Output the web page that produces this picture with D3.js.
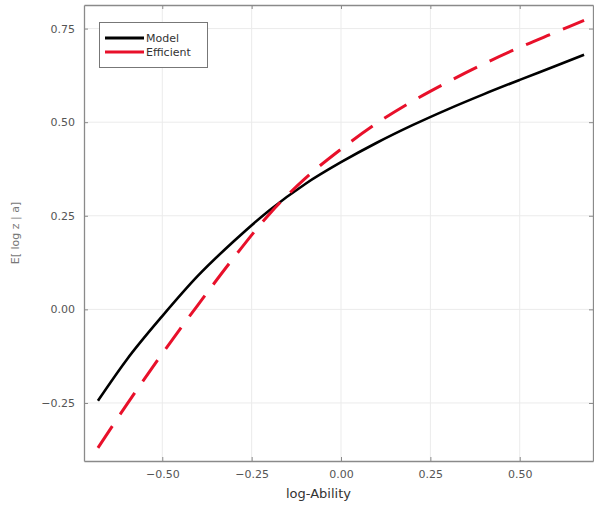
<!DOCTYPE html>
<html>
<head>
<meta charset="utf-8">
<script src="https://cdn.jsdelivr.net/npm/d3@7"></script>
<style>
  html, body { margin: 0; padding: 0; background: #fff; }
  svg { display: block; }
</style>
</head>
<body>
<svg id="chart" width="594" height="508"></svg>
<script>
const xValues = [-0.68, -0.60, -0.50, -0.40, -0.30, -0.20, -0.10, 0.00, 0.10, 0.20, 0.30, 0.40, 0.50, 0.60, 0.68];
const modelValues = [-0.244, -0.135, -0.018, 0.09, 0.182, 0.265, 0.335, 0.393, 0.445, 0.492, 0.535, 0.575, 0.613, 0.650, 0.680];
const efficientValues = [-0.37, -0.255, -0.118, 0.012, 0.138, 0.255, 0.35, 0.428, 0.497, 0.556, 0.608, 0.656, 0.700, 0.740, 0.772];
const seriesNames = ["Model", "Efficient"];
const xTicks = [-0.50, -0.25, 0.00, 0.25, 0.50];
const yTicks = [-0.25, 0.00, 0.25, 0.50, 0.75];
const xLabel = "log-Ability";
const yLabel = "E[ log z | a]";

(function () {
const svg = d3.select("#chart");
const pLeft = 84, pRight = 593, pTop = 5, pBottom = 461;

const x = d3.scaleLinear().domain([-0.719, 0.705]).range([pLeft, pRight]);
const y = d3.scaleLinear().domain([-0.405, 0.813]).range([pBottom, pTop]);

// grid
const grid = svg.append("g");
grid.selectAll("line.vx").data(xTicks).join("line")
  .attr("x1", d => x(d)).attr("x2", d => x(d)).attr("y1", pTop).attr("y2", pBottom)
  .attr("stroke", "#ebebeb").attr("stroke-width", 1);
grid.selectAll("line.hy").data(yTicks).join("line")
  .attr("x1", pLeft).attr("x2", pRight).attr("y1", d => y(d)).attr("y2", d => y(d))
  .attr("stroke", "#ebebeb").attr("stroke-width", 1);

const fmt = d => d3.format(".2f")(d).replace("-", "\u2212");

// axes
const xAxis = d3.axisBottom(x).tickValues(xTicks).tickFormat(fmt).tickSizeInner(-4).tickSizeOuter(0).tickPadding(9);
const gx = svg.append("g").attr("transform", `translate(0,${pBottom})`).call(xAxis);
const yAxis = d3.axisLeft(y).tickValues(yTicks).tickFormat(fmt).tickSizeInner(-4).tickSizeOuter(0).tickPadding(9);
const gy = svg.append("g").attr("transform", `translate(${pLeft},0)`).call(yAxis);
const xTop = d3.axisTop(x).tickValues(xTicks).tickFormat("").tickSizeInner(-4).tickSizeOuter(0);
const gxt = svg.append("g").attr("transform", `translate(0,${pTop})`).call(xTop);
const yRight = d3.axisRight(y).tickValues(yTicks).tickFormat("").tickSizeInner(-4).tickSizeOuter(0);
const gyr = svg.append("g").attr("transform", `translate(${pRight},0)`).call(yRight);

[gx, gy, gxt, gyr].forEach(g => {
  g.select(".domain").attr("stroke", "#8a8a8a").attr("stroke-width", 1.3);
  g.selectAll(".tick line").attr("stroke", "#8a8a8a").attr("stroke-width", 1);
  g.selectAll(".tick text").attr("fill", "#555").attr("font-family", "DejaVu Sans, sans-serif").attr("font-size", 11);
});

// axis labels
svg.append("text").attr("x", (pLeft + pRight) / 2 - 20).attr("y", 498)
  .attr("text-anchor", "middle").attr("font-family", "DejaVu Sans, sans-serif")
  .attr("font-size", 13).attr("fill", "#333").text(xLabel);
svg.append("text").attr("transform", `translate(19,${(pTop + pBottom) / 2}) rotate(-90)`)
  .attr("text-anchor", "middle").attr("font-family", "DejaVu Sans, sans-serif")
  .attr("font-size", 11).attr("fill", "#777").text(yLabel);

// lines
svg.append("clipPath").attr("id", "clip").append("rect")
  .attr("x", pLeft).attr("y", pTop).attr("width", pRight - pLeft).attr("height", pBottom - pTop);
const line = d3.line().x(d => x(d[0])).y(d => y(d[1])).curve(d3.curveMonotoneX);
const modelData = xValues.map((v, i) => [v, modelValues[i]]);
const effData = xValues.map((v, i) => [v, efficientValues[i]]);

const plot = svg.append("g").attr("clip-path", "url(#clip)");
plot.append("path").datum(modelData).attr("d", line)
  .attr("fill", "none").attr("stroke", "#000").attr("stroke-width", 2.6);
plot.append("path").datum(effData).attr("d", line)
  .attr("fill", "none").attr("stroke", "#e8102a").attr("stroke-width", 3)
  .attr("stroke-dasharray", "26,14");

// legend
const lg = svg.append("g");
lg.append("rect").attr("x", 99.5).attr("y", 22.5).attr("width", 108).attr("height", 45)
  .attr("fill", "#fff").attr("stroke", "#777").attr("stroke-width", 1);
const colors = ["#000", "#e8102a"];
seriesNames.forEach((n, i) => {
  const yy = 38 + i * 14;
  lg.append("line").attr("x1", 105).attr("x2", 144).attr("y1", yy).attr("y2", yy)
    .attr("stroke", colors[i]).attr("stroke-width", 3);
  lg.append("text").attr("x", 146).attr("y", yy + 4).attr("font-family", "DejaVu Sans, sans-serif")
    .attr("font-size", 11).attr("fill", "#333").text(n);
});
})();
</script>
</body>
</html>
